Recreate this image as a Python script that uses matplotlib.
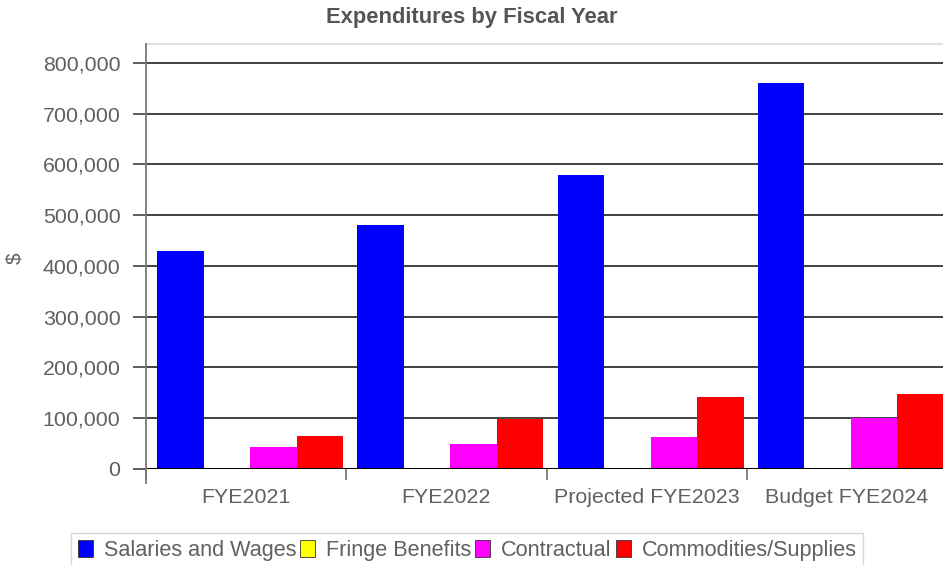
import matplotlib
matplotlib.use("Agg")
import matplotlib.pyplot as plt
from matplotlib.ticker import FuncFormatter, FixedLocator
from matplotlib.lines import Line2D
from matplotlib.patches import Patch

plt.rcParams['font.family'] = ['Liberation Sans', 'DejaVu Sans']

# Expenditure data by fiscal year
categories = ["FYE2021", "FYE2022", "Projected FYE2023", "Budget FYE2024"]
series_names = ["Salaries and Wages", "Fringe Benefits", "Contractual", "Commodities/Supplies"]
salaries = [430000, 481000, 580000, 761000]
fringe = [0, 0, 0, 0]
contractual = [44000, 49000, 64000, 100000]
commodities = [65000, 98500, 142500, 147000]
series_values = [salaries, fringe, contractual, commodities]
colors = ["#0000ff", "#ffff00", "#ff00ff", "#ff0000"]
y_ticks = [0, 100000, 200000, 300000, 400000, 500000, 600000, 700000, 800000]

W, H = 943, 565
fig = plt.figure(figsize=(W / 100, H / 100), dpi=100)
ax = fig.add_axes([146 / W, 1 - 469 / H, 801 / W, (469 - 44) / H])

text_gray = "#606060"
bar_w = 0.2325
offset = 0.055
for s, (vals, col) in enumerate(zip(series_values, colors)):
    xs = [g + offset + s * bar_w for g in range(len(categories))]
    ax.bar(xs, vals, width=bar_w, align='edge', color=col, edgecolor='none',
           zorder=3)

ax.set_xlim(0, len(categories))
ax.set_ylim(0, 837400)

# horizontal grid
for v in y_ticks[1:]:
    ax.axhline(v, color="#333333", lw=1.3, zorder=2)
ax.axhline(0, color="#000000", lw=2.2, zorder=4)
ax.axhline(837400, color="#dddddd", lw=1.2, zorder=1, clip_on=False)

for sp in ax.spines.values():
    sp.set_visible(False)

# left axis line extending a little below the baseline
ax.add_line(Line2D([0, 0], [-0.033, 1.0], transform=ax.transAxes,
                   color="#777777", lw=1.3, clip_on=False, zorder=5))

ax.yaxis.set_major_locator(FixedLocator(y_ticks))
ax.yaxis.set_major_formatter(FuncFormatter(lambda v, p: f"{int(v):,}"))
ax.tick_params(axis='y', length=9.4, width=1.1, color="#333333", pad=9,
               labelsize=15.4, labelcolor=text_gray)

ax.xaxis.set_major_locator(FixedLocator(range(len(categories) + 1)))
ax.xaxis.set_major_formatter(FuncFormatter(lambda v, p: ""))
ax.xaxis.set_minor_locator(FixedLocator([g + 0.5 for g in range(len(categories))]))
ax.set_xticklabels(categories, minor=True)
ax.tick_params(axis='x', which='major', length=8, width=1.3, color="#777777")
ax.tick_params(axis='x', which='minor', length=0, pad=14, labelsize=15.4,
               labelcolor=text_gray)

fig.text(472 / W, 1 - 18 / H, "Expenditures by Fiscal Year", ha='center', va='center',
         fontsize=15.8, fontweight='bold', color="#555555")
fig.text(15 / W, 1 - 258 / H, "$", rotation=90, ha='center', va='center',
         fontsize=15, color=text_gray)

handles = [Patch(facecolor=c, edgecolor="#333333", linewidth=0.6) for c in colors]
leg = fig.legend(handles, series_names, loc='upper left',
                 bbox_to_anchor=(71 / W, 1 - 533 / H), ncol=4, frameon=True,
                 fancybox=False, edgecolor="#cccccc", fontsize=15.6,
                 handlelength=0.68, handleheight=0.8, handletextpad=0.5,
                 columnspacing=0.2, borderpad=0.32, borderaxespad=0)
for t in leg.get_texts():
    t.set_color(text_gray)
leg.get_frame().set_linewidth(1.0)

fig.savefig("out.png", dpi=100)
